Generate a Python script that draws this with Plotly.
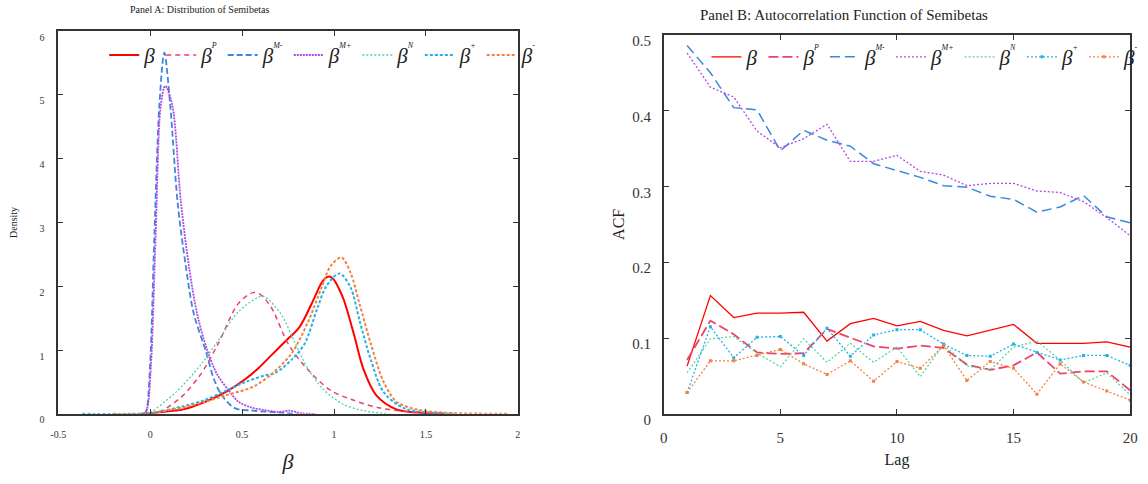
import plotly.graph_objects as go

# ---------------- Panel A: density of semibetas ----------------
xa_beta = [-0.05, 0.0, 0.1, 0.18, 0.3, 0.41, 0.52, 0.59, 0.66, 0.74, 0.81, 0.892, 0.928, 0.955, 0.978, 1.0, 1.027, 1.054, 1.108, 1.16, 1.23, 1.34, 1.45, 1.6]
da_beta = [0, 0.01, 0.04, 0.07, 0.19, 0.34, 0.55, 0.72, 0.92, 1.15, 1.35, 1.81, 2.03, 2.13, 2.15, 2.10, 1.96, 1.78, 1.25, 0.70, 0.29, 0.07, 0.02, 0]

xa_p = [-0.05, 0.04, 0.16, 0.27, 0.37, 0.48, 0.56, 0.6, 0.66, 0.75, 0.84, 0.98, 1.1, 1.25, 1.41, 1.55]
da_p = [0, 0.02, 0.24, 0.6, 1.1, 1.73, 1.90, 1.87, 1.66, 1.10, 0.75, 0.37, 0.22, 0.09, 0.03, 0]

xa_mm = [-0.03, -0.02, 0.0, 0.023, 0.05, 0.077, 0.109, 0.149, 0.194, 0.238, 0.301, 0.346, 0.39, 0.46, 0.56, 0.7, 0.8]
da_mm = [0, 0.05, 0.8, 2.82, 4.84, 5.66, 4.84, 3.32, 2.31, 1.56, 1.0, 0.55, 0.29, 0.09, 0.05, 0.02, 0]

xa_mp = [-0.03, -0.015, 0.005, 0.03, 0.058, 0.082, 0.12, 0.167, 0.211, 0.256, 0.31, 0.364, 0.426, 0.48, 0.55, 0.62, 0.7, 0.76, 0.82, 0.9]
da_mp = [0, 0.1, 0.8, 2.82, 4.84, 5.14, 4.84, 3.32, 2.31, 1.56, 1.0, 0.62, 0.37, 0.19, 0.1, 0.06, 0.03, 0.05, 0.01, 0]

xa_n = [-0.02, 0.0, 0.14, 0.27, 0.37, 0.48, 0.59, 0.62, 0.71, 0.78, 0.85, 0.94, 1.05, 1.16, 1.3]
da_n = [0, 0.02, 0.34, 0.75, 1.15, 1.6, 1.83, 1.84, 1.57, 1.16, 0.75, 0.39, 0.15, 0.05, 0]

xa_plus = [-0.37, -0.1, 0.0, 0.18, 0.3, 0.41, 0.52, 0.62, 0.68, 0.77, 0.84, 0.91, 0.96, 1.03, 1.09, 1.14, 1.2, 1.27, 1.38, 1.52, 1.65]
da_plus = [0, 0, 0.01, 0.12, 0.22, 0.36, 0.5, 0.6, 0.64, 0.85, 1.10, 1.66, 2.01, 2.20, 1.98, 1.45, 0.85, 0.34, 0.09, 0.02, 0]

xa_minus = [-0.2, -0.05, 0.0, 0.18, 0.3, 0.41, 0.52, 0.57, 0.66, 0.77, 0.86, 0.93, 0.98, 1.04, 1.09, 1.14, 1.2, 1.27, 1.34, 1.45, 1.59, 1.95]
da_minus = [0, 0, 0.01, 0.1, 0.19, 0.29, 0.38, 0.44, 0.62, 0.95, 1.45, 1.96, 2.31, 2.45, 2.21, 1.71, 1.10, 0.50, 0.19, 0.07, 0.02, 0]

# ---------------- Panel B: autocorrelation ----------------
lags = list(range(1, 21))
acf_beta = [0.063, 0.156, 0.127, 0.133, 0.133, 0.134, 0.096, 0.119, 0.126, 0.116, 0.122, 0.110, 0.103, 0.110, 0.118, 0.093, 0.093, 0.093, 0.095, 0.088]
acf_p = [0.071, 0.123, 0.105, 0.081, 0.079, 0.080, 0.112, 0.100, 0.089, 0.086, 0.090, 0.087, 0.065, 0.058, 0.064, 0.081, 0.053, 0.056, 0.056, 0.031]
acf_mm = [0.486, 0.450, 0.404, 0.401, 0.347, 0.374, 0.361, 0.353, 0.330, 0.321, 0.312, 0.301, 0.299, 0.287, 0.283, 0.266, 0.273, 0.288, 0.260, 0.252]
acf_mp = [0.476, 0.431, 0.418, 0.373, 0.351, 0.363, 0.382, 0.333, 0.333, 0.341, 0.320, 0.315, 0.301, 0.304, 0.304, 0.294, 0.292, 0.280, 0.259, 0.235]
acf_n = [0.054, 0.099, 0.102, 0.080, 0.062, 0.099, 0.068, 0.093, 0.068, 0.088, 0.049, 0.092, 0.063, 0.058, 0.088, 0.096, 0.071, 0.041, 0.054, 0.025]
acf_plus = [0.028, 0.115, 0.074, 0.101, 0.102, 0.077, 0.113, 0.076, 0.104, 0.111, 0.111, 0.092, 0.077, 0.076, 0.092, 0.081, 0.071, 0.077, 0.077, 0.064]
acf_minus = [0.028, 0.070, 0.070, 0.077, 0.085, 0.066, 0.052, 0.070, 0.043, 0.069, 0.060, 0.090, 0.044, 0.069, 0.060, 0.026, 0.066, 0.042, 0.030, 0.018]

SERIF = "Liberation Serif"
B = "<i>β</i>"
def lab(sup):
    if not sup:
        return B
    return B + '<sup><sup><span style="font-size:8px"><i>' + sup + '</i></span></sup></sup>'

labels = [lab(""), lab("P"), lab("M-"), lab("M+"), lab("N"), lab("+"), lab("-")]
colors = ["#FF0000", "#EE4266", "#3A88DD", "#B048E8", "#4CD3A5", "#22B2E8", "#F5813F"]

panelA = [
    (xa_beta, da_beta, dict(width=2, dash="solid")),
    (xa_p, da_p, dict(width=1.5, dash="5px,4px")),
    (xa_mm, da_mm, dict(width=1.8, dash="6px,3px")),
    (xa_mp, da_mp, dict(width=1.8, dash="2px,1px")),
    (xa_n, da_n, dict(width=1.3, dash="2px,2px")),
    (xa_plus, da_plus, dict(width=2, dash="3px,2px")),
    (xa_minus, da_minus, dict(width=2, dash="3px,2px")),
]
panelB = [
    (acf_beta, dict(width=1.3, dash="solid"), None),
    (acf_p, dict(width=1.8, dash="10px,4px"), None),
    (acf_mm, dict(width=1.5, dash="10px,5px"), None),
    (acf_mp, dict(width=1.3, dash="2px,2px"), None),
    (acf_n, dict(width=1.2, dash="2px,2px"), None),
    (acf_plus, dict(width=1.3, dash="2px,2px"), "square"),
    (acf_minus, dict(width=1.3, dash="2px,2px"), "square"),
]

fig = go.Figure()
for i, (xs, ys, ln) in enumerate(panelA):
    fig.add_trace(go.Scatter(
        x=xs, y=ys, mode="lines", name=labels[i],
        line=dict(color=colors[i], shape="spline", smoothing=0.9, **ln),
        xaxis="x", yaxis="y", legend="legend"))
for i, (ys, ln, mk) in enumerate(panelB):
    fig.add_trace(go.Scatter(
        x=lags, y=ys, mode="lines+markers" if mk else "lines", name=labels[i],
        line=dict(color=colors[i], **ln),
        marker=dict(symbol=mk or "circle", size=3, color=colors[i]),
        xaxis="x2", yaxis="y2", legend="legend2"))

def axis(size, **kw):
    d = dict(showline=True, mirror="ticks", ticks="inside", linecolor="#333333",
             linewidth=1.5, tickcolor="#333333", ticklen=5, showgrid=False,
             zeroline=False, tickfont=dict(family=SERIF, size=size, color="#333333"))
    d.update(kw)
    return d

fig.update_layout(
    width=1148, height=484,
    margin=dict(l=0, r=0, t=0, b=0),
    paper_bgcolor="white", plot_bgcolor="white",
    font=dict(family=SERIF, color="#222222"),
    xaxis=axis(10, domain=[0.0444, 0.4504], range=[-0.5, 2], anchor="y",
               tickvals=[-0.5, 0, 0.5, 1, 1.5, 2], ticktext=["-0.5", "0", "0.5", "1", "1.5", "2"],
               ticklabelstandoff=10,
               title=dict(text="<i>β</i>", font=dict(size=22, family=SERIF), standoff=15)),
    yaxis=axis(10, domain=[0.12, 0.938], range=[0, 6], dtick=1, anchor="x",
               ticklabelshift=6, ticklabelstandoff=10,
               title=dict(text="Density", font=dict(size=10, family=SERIF), standoff=20)),
    xaxis2=axis(15, domain=[0.5793, 0.9913], range=[0, 20], dtick=5, anchor="y2",
                ticklabelstandoff=9,
                title=dict(text="Lag", font=dict(size=16, family=SERIF), standoff=9)),
    yaxis2=axis(15, domain=[0.12, 0.9298], range=[0, 0.5], dtick=0.1, anchor="x2",
                ticklabelshift=6, ticklabelstandoff=8,
                title=dict(text="ACF", font=dict(size=16, family=SERIF), standoff=4)),
    legend=dict(orientation="h", x=0.085, y=0.886, xanchor="left", yanchor="middle",
                bgcolor="rgba(0,0,0,0)", font=dict(size=21, family=SERIF, color="#222222"),
                itemwidth=30, tracegroupgap=0),
    legend2=dict(orientation="h", x=0.617, y=0.882, xanchor="left", yanchor="middle",
                 bgcolor="rgba(0,0,0,0)", font=dict(size=21, family=SERIF, color="#222222"),
                 itemwidth=30, tracegroupgap=0),
    annotations=[
        dict(text="Panel A: Distribution of Semibetas", x=195 / 1148, y=1 - 8 / 484,
             xref="paper", yref="paper", showarrow=False, xanchor="center", yanchor="middle",
             font=dict(size=10, family=SERIF, color="#222222")),
        dict(text="Panel B: Autocorrelation Function of Semibetas", x=848 / 1148, y=1 - 13 / 484,
             xref="paper", yref="paper", showarrow=False, xanchor="center", yanchor="middle",
             font=dict(size=15, family=SERIF, color="#222222")),
    ],
)

fig.write_html("out.html")
